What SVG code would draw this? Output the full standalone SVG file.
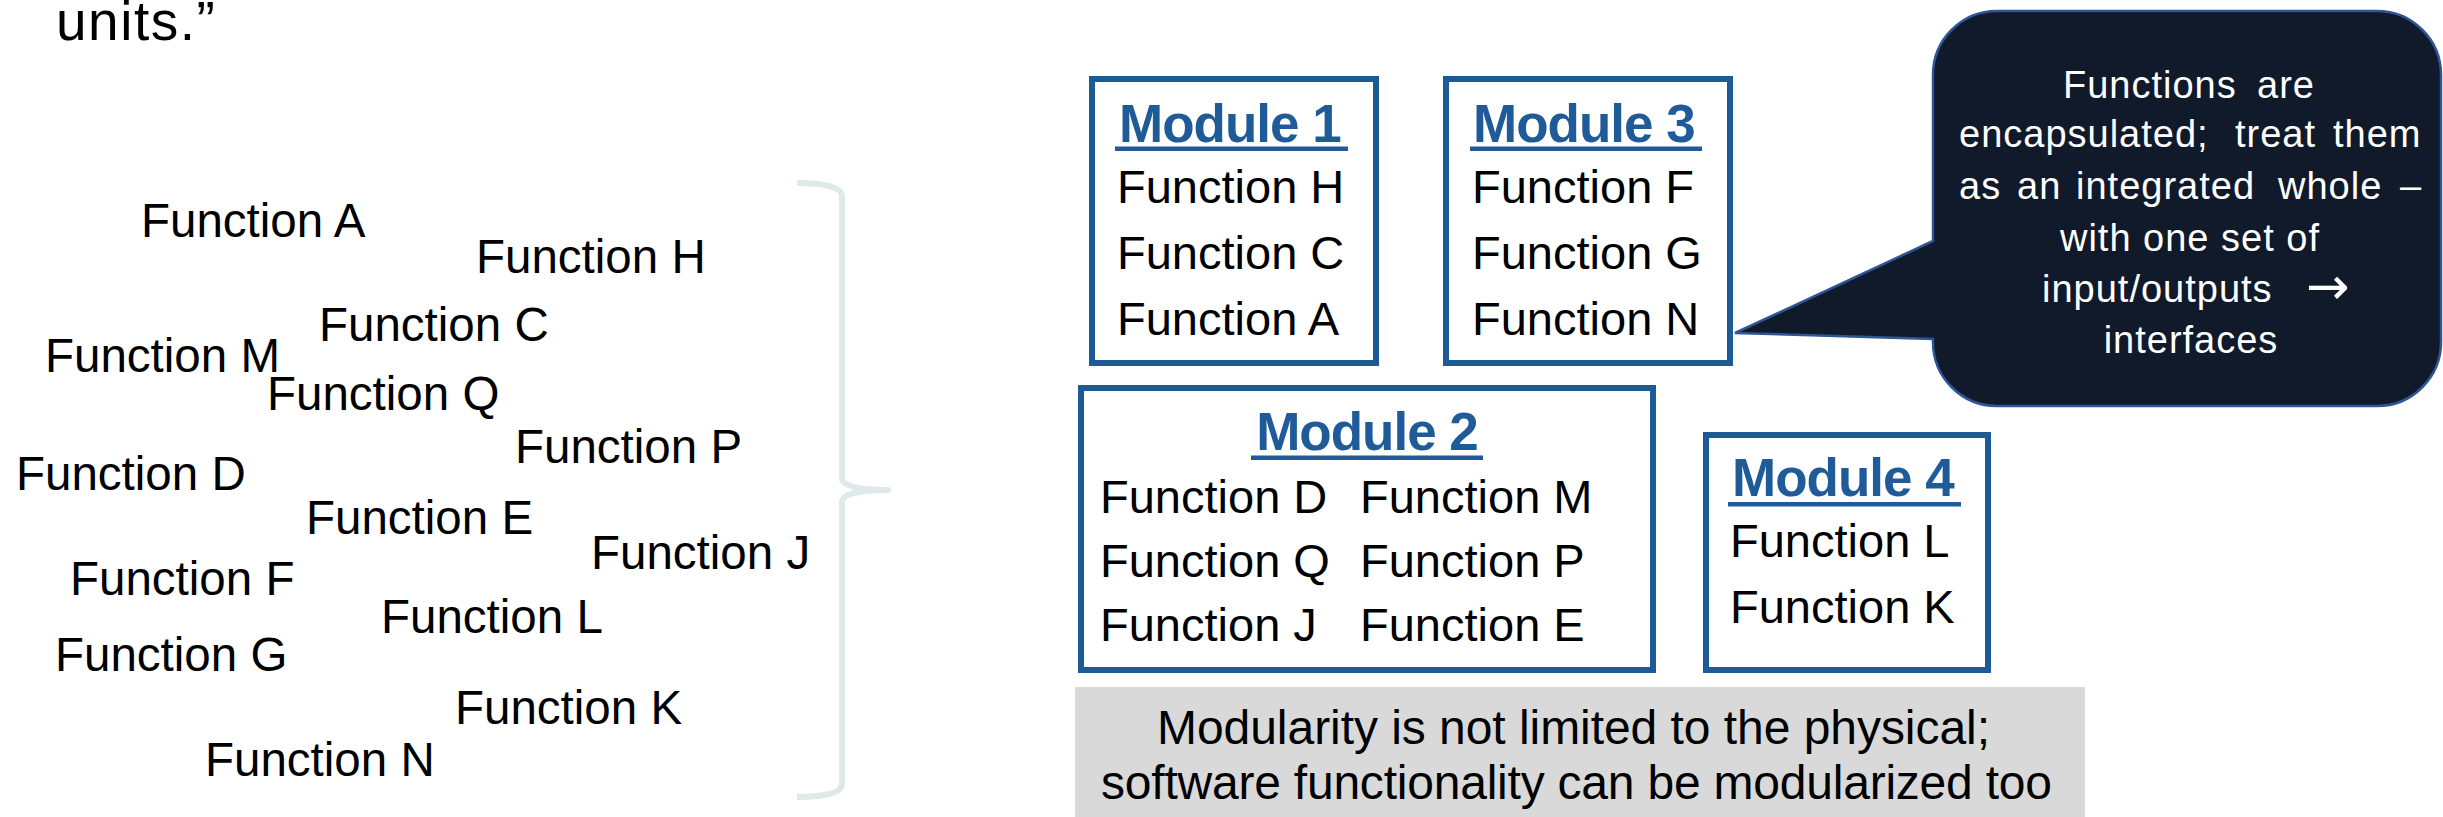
<svg xmlns="http://www.w3.org/2000/svg" width="2443" height="817" viewBox="0 0 2443 817">
  <style>
    text { font-family: "Liberation Sans", Arial, sans-serif; }
    .fn { font-size: 47.5px; fill: #000; }
    .mfn { font-size: 47px; fill: #000; }
    .title { font-size: 53px; font-weight: bold; fill: #1f5b98; letter-spacing: -1px; }
    .box { fill: #fff; stroke: #1d5a96; stroke-width: 6; }
    .uline { fill: #1f5b98; }
    .call { font-size: 38px; fill: #fff; letter-spacing: 1px; }
    .arrow { font-family: "DejaVu Sans", sans-serif; font-size: 52px; letter-spacing: 0; }
    .note { font-size: 48px; fill: #000; }
  </style>

  <!-- heading fragment -->
  <text x="56" y="40" style="font-size:55px; letter-spacing:1.5px">units.”</text>

  <!-- loose functions -->
  <g id="loose-functions">
    <text class="fn" x="141" y="237">Function A</text>
    <text class="fn" x="476" y="273">Function H</text>
    <text class="fn" x="319" y="341">Function C</text>
    <text class="fn" x="45" y="372">Function M</text>
    <text class="fn" x="267" y="410">Function Q</text>
    <text class="fn" x="515" y="463">Function P</text>
    <text class="fn" x="16" y="490">Function D</text>
    <text class="fn" x="306" y="534">Function E</text>
    <text class="fn" x="591" y="569">Function J</text>
    <text class="fn" x="70" y="595">Function F</text>
    <text class="fn" x="381" y="633">Function L</text>
    <text class="fn" x="55" y="671">Function G</text>
    <text class="fn" x="455" y="724">Function K</text>
    <text class="fn" x="205" y="776">Function N</text>
  </g>

  <!-- grouping brace -->
  <g id="brace">
    <path d="M797 183 Q842 183 842 196 L842 478 Q842 490 888 490 Q842 490 842 502 L842 784 Q842 797 797 797"
          fill="none" stroke="#dfe9ea" stroke-width="6" stroke-linejoin="round"/>
  </g>

  <!-- Module 1 -->
  <g id="module-1">
    <rect class="box" x="1092" y="79" width="284" height="284"/>
    <text class="title" x="1119" y="142">Module 1</text>
    <rect class="uline" x="1115" y="146.5" width="233" height="4.5"/>
    <text class="mfn" x="1117" y="203">Function H</text>
    <text class="mfn" x="1117" y="269">Function C</text>
    <text class="mfn" x="1117" y="335">Function A</text>
  </g>

  <!-- Module 3 -->
  <g id="module-3">
    <rect class="box" x="1446" y="79" width="284" height="284"/>
    <text class="title" x="1473" y="142">Module 3</text>
    <rect class="uline" x="1470" y="146.5" width="232" height="4.5"/>
    <text class="mfn" x="1472" y="203">Function F</text>
    <text class="mfn" x="1472" y="269">Function G</text>
    <text class="mfn" x="1472" y="335">Function N</text>
  </g>

  <!-- Module 2 -->
  <g id="module-2">
    <rect class="box" x="1081" y="388" width="572" height="282"/>
    <text class="title" x="1367" y="450" text-anchor="middle">Module 2</text>
    <rect class="uline" x="1251" y="455.5" width="232" height="4.5"/>
    <text class="mfn" x="1100" y="513">Function D</text>
    <text class="mfn" x="1100" y="577">Function Q</text>
    <text class="mfn" x="1100" y="641">Function J</text>
    <text class="mfn" x="1360" y="513">Function M</text>
    <text class="mfn" x="1360" y="577">Function P</text>
    <text class="mfn" x="1360" y="641">Function E</text>
  </g>

  <!-- Module 4 -->
  <g id="module-4">
    <rect class="box" x="1706" y="435" width="282" height="235"/>
    <text class="title" x="1732" y="496">Module 4</text>
    <rect class="uline" x="1728" y="502" width="233" height="4.5"/>
    <text class="mfn" x="1730" y="557">Function L</text>
    <text class="mfn" x="1730" y="623">Function K</text>
  </g>

  <!-- note bar -->
  <g id="note">
    <rect x="1075" y="687" width="1010" height="130" fill="#d9d9d9"/>
    <text class="note" x="1157" y="744" textLength="833" lengthAdjust="spacing">Modularity is not limited to the physical;</text>
    <text class="note" x="1101" y="799" textLength="951" lengthAdjust="spacing">software functionality can be modularized too</text>
  </g>

  <!-- callout -->
  <g id="callout">
    <path d="M1997 11 H2377 A64 64 0 0 1 2441 75 V342 A64 64 0 0 1 2377 406 H1997 A64 64 0 0 1 1933 342 V339 L1735 333 L1933 241 V75 A64 64 0 0 1 1997 11 Z"
          fill="#101a2b" stroke="#2f5597" stroke-width="2.5" stroke-linejoin="miter"/>
    <text class="call" y="98"><tspan x="2063">Functions</tspan><tspan x="2257">are</tspan></text>
    <text class="call" y="147"><tspan x="1959">encapsulated;</tspan><tspan x="2235">treat</tspan><tspan x="2333">them</tspan></text>
    <text class="call" y="199"><tspan x="1959">as</tspan><tspan x="2017">an</tspan><tspan x="2076">integrated</tspan><tspan x="2278">whole</tspan><tspan x="2400">–</tspan></text>
    <text class="call" x="2190" y="251" text-anchor="middle">with one set of</text>
    <text class="call" y="302"><tspan x="2042">input/outputs</tspan><tspan class="arrow" x="2306" y="304">→</tspan></text>
    <text class="call" x="2191" y="353" text-anchor="middle">interfaces</text>
  </g>

  <g id="connectors"/>
</svg>
